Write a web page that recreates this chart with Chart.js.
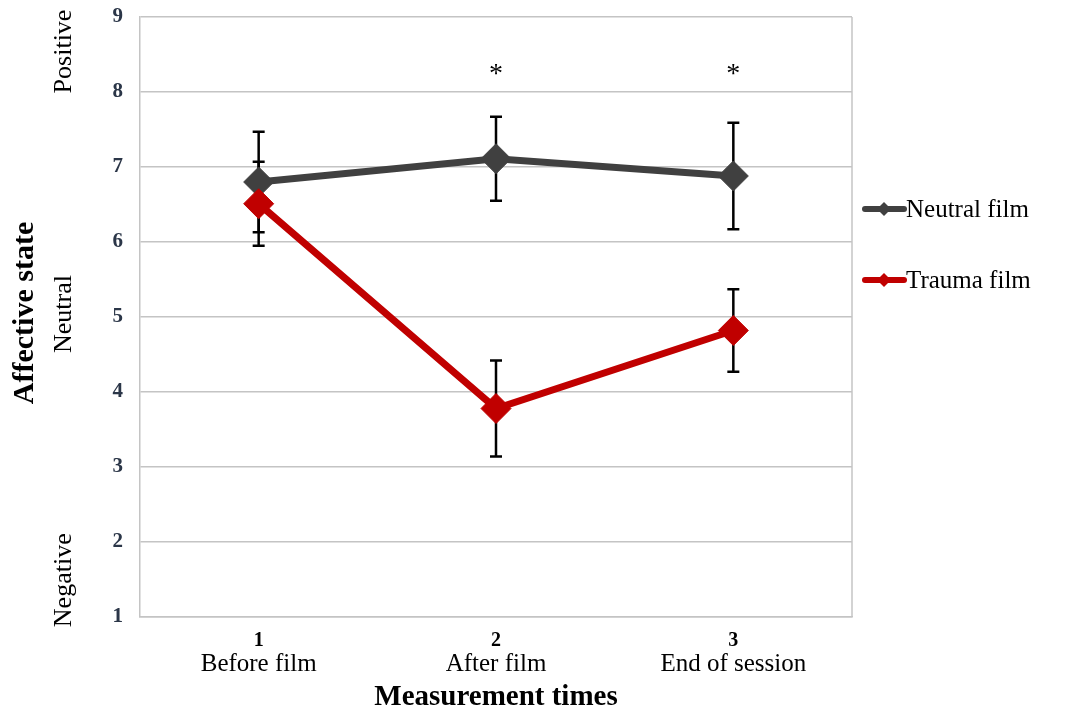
<!DOCTYPE html>
<html>
<head>
<meta charset="utf-8">
<script src="https://cdn.jsdelivr.net/npm/chart.js@4"></script>
<style>
  html,body{margin:0;padding:0;background:#fff;}
  #wrap{width:1068px;height:711px;position:relative;}
</style>
</head>
<body>
<div id="wrap"><canvas id="chart"></canvas></div>
<script>
// ---- data ----
const timeNums = ["1", "2", "3"];
const timeNames = ["Before film", "After film", "End of session"];
const neutralMean = [6.80, 7.11, 6.88];
const neutralErr = [0.67, 0.56, 0.71];
const traumaMean = [6.51, 3.78, 4.82];
const traumaErr = [0.56, 0.64, 0.55];
const starFlags = [false, true, true];
const yTicks = [1, 2, 3, 4, 5, 6, 7, 8, 9];
const stateLabels = [["Positive", 8.54], ["Neutral", 5.04], ["Negative", 1.49]];

const SERIF = "'Liberation Serif', 'DejaVu Serif', serif";
const GREY = "#404040";
const RED = "#C00000";
const GRID = "#C4C4C4";

// error bars go under the markers
const errorBars = {
  id: "errorBars",
  beforeDatasetsDraw(chart) {
    const ctx = chart.ctx;
    const x = chart.scales.x, y = chart.scales.y;
    const sets = [[neutralMean, neutralErr], [traumaMean, traumaErr]];
    ctx.save();
    ctx.strokeStyle = "#000";
    ctx.lineWidth = 2.5;
    sets.forEach(([m, e]) => {
      m.forEach((v, i) => {
        const px = x.getPixelForValue(i);
        const top = y.getPixelForValue(v + e[i]);
        const bot = y.getPixelForValue(v - e[i]);
        ctx.beginPath();
        ctx.moveTo(px, top); ctx.lineTo(px, bot);
        ctx.moveTo(px - 6, top); ctx.lineTo(px + 6, top);
        ctx.moveTo(px - 6, bot); ctx.lineTo(px + 6, bot);
        ctx.stroke();
      });
    });
    ctx.restore();
  }
};

// labels, asterisks, legend, right border
const extras = {
  id: "extras",
  afterDraw(chart) {
    const ctx = chart.ctx;
    const x = chart.scales.x, y = chart.scales.y;
    const a = chart.chartArea;
    ctx.save();
    // right border of plot
    ctx.strokeStyle = GRID;
    ctx.lineWidth = 1.5;
    ctx.beginPath();
    ctx.moveTo(a.right, a.top); ctx.lineTo(a.right, a.bottom);
    ctx.stroke();

    // asterisks
    ctx.fillStyle = "#000";
    ctx.font = "28px " + SERIF;
    ctx.textAlign = "center";
    ctx.textBaseline = "middle";
    starFlags.forEach((s, i) => {
      if (s) ctx.fillText("*", x.getPixelForValue(i), y.getPixelForValue(8.4) + 13);
    });

    // y title + state labels (rotated)
    ctx.save();
    ctx.translate(25, 313);
    ctx.rotate(-Math.PI / 2);
    ctx.font = "bold 30px " + SERIF;
    ctx.fillText("Affective state", 0, 0);
    ctx.restore();
    stateLabels.forEach(([t, v]) => {
      ctx.save();
      ctx.translate(64, y.getPixelForValue(v));
      ctx.rotate(-Math.PI / 2);
      ctx.font = "26px " + SERIF;
      ctx.fillText(t, 0, 0);
      ctx.restore();
    });

    // legend
    const items = [["Neutral film", GREY, 209], ["Trauma film", RED, 280]];
    ctx.textAlign = "left";
    items.forEach(([t, c, ly]) => {
      ctx.strokeStyle = c;
      ctx.fillStyle = c;
      ctx.lineWidth = 6;
      ctx.lineCap = "round";
      ctx.beginPath();
      ctx.moveTo(865, ly); ctx.lineTo(904, ly);
      ctx.stroke();
      ctx.beginPath();
      ctx.moveTo(884, ly - 7); ctx.lineTo(891, ly);
      ctx.lineTo(884, ly + 7); ctx.lineTo(877, ly);
      ctx.closePath();
      ctx.fill();
      ctx.fillStyle = "#000";
      ctx.font = "25px " + SERIF;
      ctx.fillText(t, 906, ly + 1);
    });
    ctx.restore();
  }
};

new Chart(document.getElementById("chart"), {
  type: "line",
  data: {
    labels: timeNums,
    datasets: [
      {
        label: "Neutral film",
        data: neutralMean,
        borderColor: GREY,
        backgroundColor: GREY,
        borderWidth: 7,
        pointStyle: "rectRot",
        pointRadius: 15,
        pointBorderWidth: 1,
        order: 2
      },
      {
        label: "Trauma film",
        data: traumaMean,
        borderColor: RED,
        backgroundColor: RED,
        borderWidth: 7,
        pointStyle: "rectRot",
        pointRadius: 15,
        pointBorderWidth: 1,
        order: 1
      }
    ]
  },
  options: {
    responsive: true,
    maintainAspectRatio: false,
    animation: false,
    layout: { padding: { top: 17, right: 216, left: 0, bottom: 0 } },
    plugins: { legend: { display: false }, tooltip: { enabled: false } },
    scales: {
      x: {
        type: "category",
        offset: true,
        grid: { display: false, drawTicks: false },
        border: { color: GRID, width: 1.5 },
        ticks: {
          color: "#000",
          padding: 12,
          font: { family: SERIF, size: 20, weight: "bold" }
        },
        afterFit: s => { s.height = 32; s.paddingLeft = 0; s.paddingRight = 0; }
      },
      x2: {
        type: "category",
        position: "bottom",
        labels: timeNames,
        offset: true,
        grid: { display: false, drawTicks: false },
        border: { display: false },
        ticks: {
          color: "#000",
          padding: 0,
          font: { family: SERIF, size: 25 }
        },
        title: {
          display: true,
          text: "Measurement times",
          color: "#000",
          padding: { top: 0, bottom: -4 },
          font: { family: SERIF, size: 29, weight: "bold" }
        },
        afterFit: s => { s.height = 62; s.paddingLeft = 0; s.paddingRight = 0; }
      },
      y: {
        min: 1,
        max: 9,
        afterBuildTicks: s => { s.ticks = yTicks.map(v => ({ value: v })); },
        grid: { color: GRID, lineWidth: 1.5, drawTicks: false },
        border: { color: GRID, width: 1.5 },
        ticks: {
          color: "#2B3648",
          padding: 17,
          font: { family: SERIF, size: 21, weight: "bold" }
        },
        afterFit: s => { s.width = 140; s.paddingTop = 0; s.paddingBottom = 0; }
      }
    }
  },
  plugins: [errorBars, extras]
});
</script>
</body>
</html>
